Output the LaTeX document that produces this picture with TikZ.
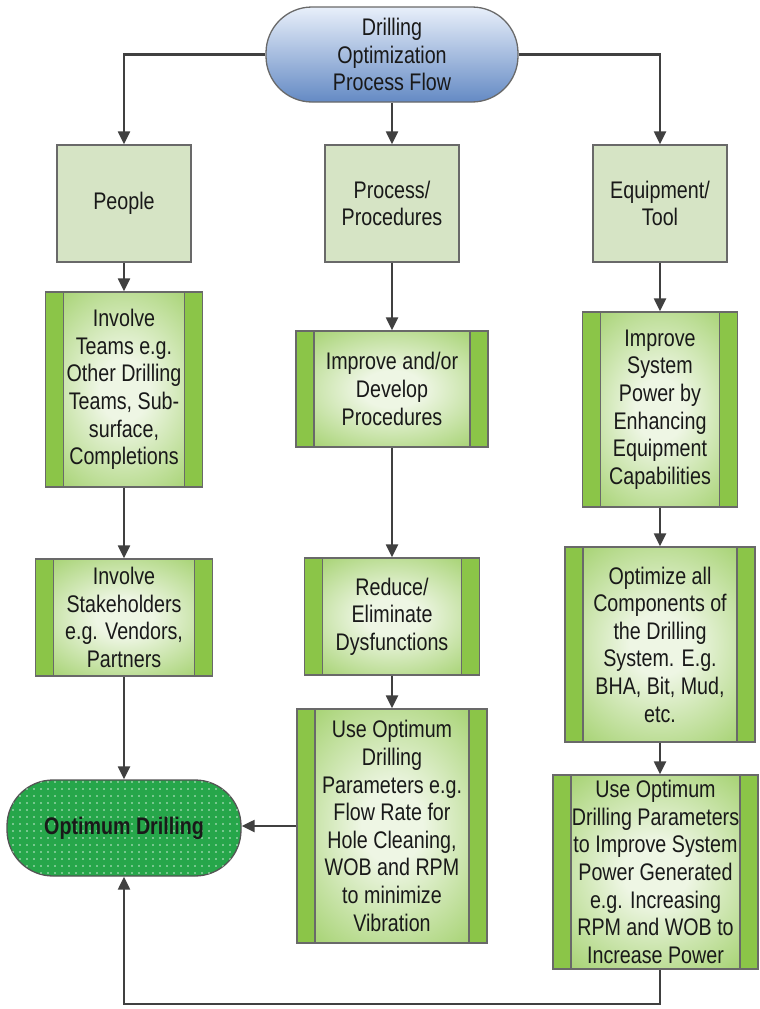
\documentclass[tikz,border=0pt]{standalone}
\usepackage{fontspec}
\setmainfont{Liberation Sans}[FakeStretch=0.82]
\usetikzlibrary{arrows.meta,patterns.meta,calc}
\definecolor{boxgreen}{RGB}{139,197,72}
\definecolor{boxlight}{RGB}{238,246,228}
\definecolor{lightbox}{RGB}{214,228,197}
\definecolor{bordc}{RGB}{105,105,105}
\definecolor{arrc}{RGB}{64,64,64}
\definecolor{textc}{RGB}{25,25,25}
\definecolor{pilltop}{RGB}{232,239,250}
\definecolor{pillbot}{RGB}{100,138,196}
\definecolor{optgreen}{RGB}{38,166,74}
\pgfdeclareradialshading{glow}{\pgfpointorigin}{color(0bp)=(boxlight); color(8bp)=(boxlight); color(42bp)=(boxgreen); color(50bp)=(boxgreen)}
\tikzset{
  base/.style={draw=bordc, line width=1.3pt, align=center, inner sep=0pt, text=textc},
  lbox/.style={base, fill=lightbox, minimum width=134pt, minimum height=117pt},
  gbox/.style={base, fill=boxgreen, path picture={
      \shade[shading=glow] ([xshift=18pt]path picture bounding box.south west) rectangle ([xshift=-18pt]path picture bounding box.north east);
      \draw[bordc, line width=1.1pt]
        ([xshift=18pt]path picture bounding box.south west) -- ([xshift=18pt]path picture bounding box.north west)
        ([xshift=-18pt]path picture bounding box.south east) -- ([xshift=-18pt]path picture bounding box.north east);
  }},
  pill/.style={base, rounded corners=46pt, top color=pilltop, bottom color=pillbot},
  optd/.style={base, draw=bordc!80!black, rounded corners=46pt, fill=optgreen,
    postaction={pattern={Dots[distance=6.5pt,radius=0.9pt]}, pattern color=white!75!optgreen},
    minimum width=234pt, minimum height=96pt},
  arr/.style={draw=arrc, line width=2.2pt, -{Triangle[length=13pt,width=12pt]}},
}
\begin{document}
\begin{tikzpicture}[x=1pt,y=-1pt,font=\fontsize{24}{27.6}\selectfont]
\fill[white] (0,0) rectangle (760,1009);
\useasboundingbox (0,0) rectangle (760,1009);

\node[pill, minimum width=252pt, minimum height=95pt] (top) at (392,54.5) {Drilling\\Optimization\\Process Flow};

\node[lbox] (people) at (124,203.5) {People};
\node[lbox] (proc) at (392,203.5) {Process/\\Procedures};
\node[lbox] (equip) at (660,203.5) {Equipment/\\Tool};

\node[gbox, minimum width=157pt, minimum height=195pt] (teams) at (124,389.5) {Involve\\Teams e.g.\\Other Drilling\\Teams, Sub-\\surface,\\Completions};
\node[gbox, minimum width=192pt, minimum height=116pt] (impr) at (392,389) {Improve and/or\\Develop\\Procedures};
\node[gbox, minimum width=155pt, minimum height=195pt] (sys) at (660,409.5) {Improve\\System\\Power by\\Enhancing\\Equipment\\Capabilities};

\node[gbox, minimum width=177pt, minimum height=117pt] (stake) at (124,617.5) {Involve\\Stakeholders\\e.g. Vendors,\\Partners};
\node[gbox, minimum width=175pt, minimum height=117pt] (red) at (392,616.5) {Reduce/\\Eliminate\\Dysfunctions};
\node[gbox, minimum width=190pt, minimum height=195pt] (optc) at (660,644.5) {Optimize all\\Components of\\the Drilling\\System. E.g.\\BHA, Bit, Mud,\\etc.};

\node[gbox, minimum width=190pt, minimum height=234pt] (usem) at (392,826) {Use Optimum\\Drilling\\Parameters e.g.\\Flow Rate for\\Hole Cleaning,\\WOB and RPM\\to minimize\\Vibration};
\node[gbox, minimum width=205pt, minimum height=194pt] (user) at (655.5,872) {Use Optimum\\Drilling Parameters\\to Improve System\\Power Generated\\e.g. Increasing\\RPM and WOB to\\Increase Power};

\node[optd] (optd) at (124,828) {\textbf{Optimum Drilling}};

\draw[arr] (top.west) -| (people.north);
\draw[arr] (top.south) -- (proc.north);
\draw[arr] (top.east) -| (equip.north);

\draw[arr] (people.south) -- (teams.north);
\draw[arr] (teams.south) -- (stake.north);
\draw[arr] (stake.south) -- (optd.north);

\draw[arr] (proc.south) -- (impr.north);
\draw[arr] (impr.south) -- (red.north);
\draw[arr] (red.south) -- (usem.north);
\draw[arr] (usem.west) -- (usem.west -| optd.east);

\draw[arr] (equip.south) -- (sys.north);
\draw[arr] (sys.south) -- (optc.north);
\draw[arr] (optc.south) -- (optc.south |- user.north);

\coordinate (fbR) at (660,1004);
\coordinate (fbL) at (124,1004);
\draw[arr] (user.south -| optc) -- (fbR) -- (fbL) -- (optd.south);
\end{tikzpicture}
\end{document}
